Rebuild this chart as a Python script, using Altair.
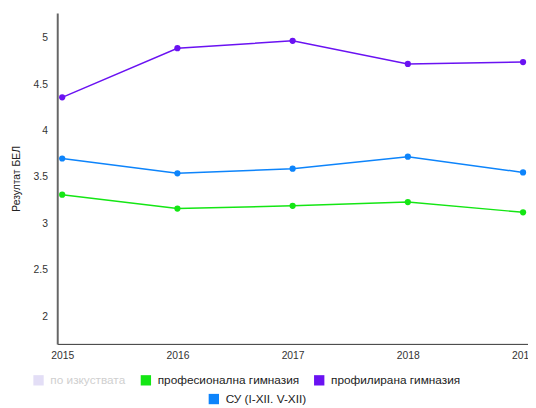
import altair as alt
import pandas as pd

years = [2015, 2016, 2017, 2018, 2019]
series_names = ["по изкуствата", "професионална гимназия", "профилирана гимназия"]
su_name = "СУ (I-XII. V-XII)"
prof = [3.31, 3.16, 3.19, 3.23, 3.12]
profil = [4.36, 4.89, 4.97, 4.72, 4.74]
su = [3.70, 3.54, 3.59, 3.72, 3.55]

colors_main = ["#e3def6", "#14e614", "#6a12f2"]
color_su = "#0d84fb"

df1 = pd.DataFrame(
    {"year": years * 2,
     "value": prof + profil,
     "series": [series_names[1]] * 5 + [series_names[2]] * 5}
)
df2 = pd.DataFrame({"year": years, "value": su, "series2": [su_name] * 5})

x_enc = alt.X(
    "year:Q",
    scale=alt.Scale(domain=[2014.957, 2019.043], nice=False, zero=False),
    axis=alt.Axis(values=years, format="d", title=None, ticks=False, grid=False,
                  labelPadding=7, labelFontSize=10.5, labelColor="#333",
                  domainColor="#333", domainWidth=1, labelFlush=False),
)
y_enc = alt.Y(
    "value:Q",
    scale=alt.Scale(domain=[1.7, 5.27], nice=False, zero=False),
    axis=alt.Axis(values=[2, 2.5, 3, 3.5, 4, 4.5, 5], format="~g", title="Резултат БЕЛ",
                  ticks=False, grid=False, labelPadding=10, labelFontSize=10.5,
                  labelColor="#333", titleFontSize=10.5, titleFontWeight="normal",
                  titleColor="#222", titlePadding=12, domainColor="#666", domainWidth=2),
)

legend_common = dict(
    orient="none", direction="horizontal", title=None, symbolType="square",
    symbolSize=110, symbolStrokeWidth=0, symbolOpacity=1, labelFontSize=12,
    labelFont="Liberation Sans", labelOffset=6, columnPadding=14, labelLimit=300,
)

c1 = alt.Color(
    "series:N",
    scale=alt.Scale(domain=series_names, range=colors_main),
    legend=alt.Legend(
        legendX=-25, legendY=367,
        labelColor=alt.ExprRef(expr="datum.value === 'по изкуствата' ? '#cfcfcf' : '#222222'"),
        **legend_common,
    ),
)
c2 = alt.Color(
    "series2:N",
    scale=alt.Scale(domain=[su_name], range=[color_su]),
    legend=alt.Legend(legendX=153, legendY=386, labelColor="#222222", **legend_common),
)

base1 = alt.Chart(df1).encode(x=x_enc, y=y_enc, color=c1)
layer1 = base1.mark_line(strokeWidth=1.5) + base1.mark_point(filled=True, size=40, opacity=1)
base2 = alt.Chart(df2).encode(x=x_enc, y=y_enc, color=c2)
layer2 = base2.mark_line(strokeWidth=1.5) + base2.mark_point(filled=True, size=40, opacity=1)

chart = (
    alt.layer(layer1, layer2)
    .resolve_scale(color="independent")
    .properties(
        width=478, height=336,
        autosize=alt.AutoSizeParams(type="none"),
        padding={"left": 50, "top": 2, "right": 0, "bottom": 60},
    )
    .configure(font="Liberation Sans")
    .configure_view(stroke=None)
)

chart.save("out.html", embed_options={"renderer": "svg", "actions": False})
